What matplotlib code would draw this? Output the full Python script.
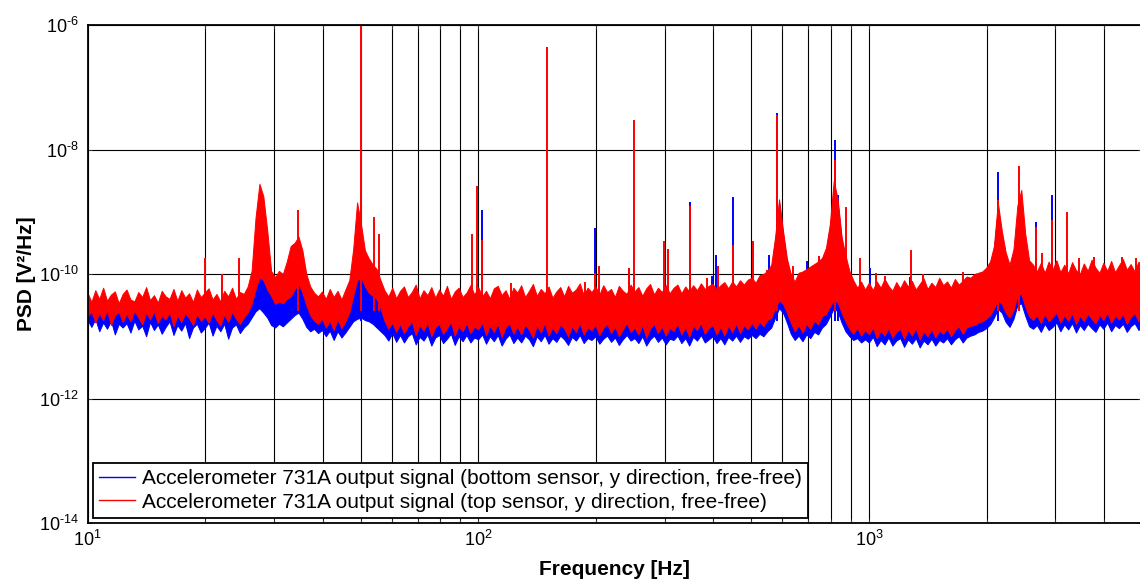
import numpy as np
import matplotlib
matplotlib.use("Agg")
import matplotlib.pyplot as plt
from matplotlib.lines import Line2D
from matplotlib.ticker import FixedLocator, FuncFormatter, NullFormatter

# -------------------------
# DATA (log10 of PSD in V^2/Hz)
# bins are spaced 0.01 decade apart starting at 10 Hz;
# each bin holds the min / max of the trace inside it
# -------------------------
top_hi_log = [
    -10.30, -10.45, -10.26, -10.40, -10.22, -10.43, -10.33, -10.28, -10.47, -10.32,
    -10.25, -10.41, -10.44, -10.29, -10.37, -10.21, -10.42, -10.34, -10.46, -10.27,
    -10.36, -10.40, -10.24, -10.43, -10.26, -10.38, -10.31, -10.45, -10.25, -10.37,
    -10.30, -10.23, -10.41, -10.32, -10.44, -10.27, -10.36, -10.22, -10.40, -10.29,
    -10.32, -10.20, -9.95, -9.10, -8.55, -8.75, -9.30, -9.95, -10.05, -9.95,
    -10.00, -9.80, -9.55, -9.50, -9.40, -9.62, -10.00, -10.20, -10.30, -10.36,
    -10.28, -10.40, -10.24, -10.37, -10.27, -10.41, -10.25, -10.10, -9.60, -8.85,
    -9.20, -9.62, -9.75, -9.85, -9.92, -10.10, -10.26, -10.36, -10.22, -10.39,
    -10.27, -10.20, -10.37, -10.29, -10.17, -10.39, -10.26, -10.34, -10.21, -10.38,
    -10.25, -10.35, -10.19, -10.40, -10.28, -10.22, -10.37, -10.30, -10.18, -10.33,
    -10.21, -10.36, -10.27, -10.39, -10.23, -10.19, -10.34, -10.26, -10.40, -10.22,
    -10.30, -10.18, -10.37, -10.27, -10.16, -10.35, -10.24, -10.31, -10.20, -10.38,
    -10.28, -10.21, -10.36, -10.19, -10.30, -10.25, -10.15, -10.34, -10.22, -10.29,
    -10.20, -10.33, -10.18, -10.29, -10.24, -10.37, -10.19, -10.27, -10.32, -10.17,
    -10.28, -10.21, -10.35, -10.23, -10.16, -10.33, -10.22, -10.29, -10.18, -10.31,
    -10.22, -10.17, -10.31, -10.20, -10.28, -10.18, -10.26, -10.15, -10.24, -10.19,
    -10.16, -10.25, -10.18, -10.13, -10.23, -10.12, -10.20, -10.10, -10.17, -10.09,
    -10.06, -10.14, -10.02, -10.00, -9.95, -9.85, -9.40, -8.80, -9.30, -9.75,
    -10.00, -10.12, -9.98, -9.96, -9.92, -9.88, -9.84, -9.80, -9.74, -9.58,
    -9.20, -8.50, -8.80, -9.40, -9.70, -9.95, -10.10, -10.22, -10.12, -10.25,
    -10.14, -10.26, -10.12, -10.22, -10.08, -10.19, -10.27, -10.13, -10.23, -10.10,
    -10.20, -10.11, -10.25, -10.16, -10.07, -10.24, -10.14, -10.21, -10.06, -10.18,
    -10.12, -10.22, -10.08, -10.17, -10.11, -10.04, -10.06, -10.00, -9.98, -9.96,
    -9.90, -9.80, -9.55, -8.85, -9.30, -9.65, -9.85, -9.60, -8.90, -8.65,
    -9.35, -9.78, -9.85, -9.96, -9.82, -9.98, -9.80, -9.93, -9.78, -9.97,
    -9.85, -9.99, -9.81, -9.94, -10.00, -9.83, -9.95, -9.77, -9.90, -9.98,
    -9.82, -9.95, -9.79, -9.97, -9.86, -9.76, -9.93, -9.84, -9.96, -9.80,
    -9.90,
]
top_lo_log = [
    -10.68, -10.60, -10.78, -10.63, -10.74, -10.58, -10.82, -10.66, -10.61, -10.77,
    -10.64, -10.76, -10.59, -10.70, -10.81, -10.62, -10.73, -10.60, -10.79, -10.67,
    -10.73, -10.61, -10.84, -10.66, -10.77, -10.63, -10.71, -10.82, -10.64, -10.75,
    -10.68, -10.78, -10.62, -10.74, -10.83, -10.65, -10.77, -10.61, -10.72, -10.80,
    -10.70, -10.62, -10.48, -10.25, -10.05, -10.10, -10.25, -10.35, -10.48, -10.44,
    -10.47, -10.40, -10.36, -10.25, -10.15, -10.30, -10.50, -10.66, -10.75, -10.80,
    -10.72, -10.86, -10.75, -10.90, -10.73, -10.87, -10.76, -10.62, -10.35, -10.10,
    -10.05, -10.20, -10.30, -10.35, -10.40, -10.55, -10.75, -10.88, -10.78, -10.93,
    -10.80, -10.95, -10.84, -10.76, -10.98, -10.82, -10.91, -10.78, -11.00, -10.85,
    -10.80, -10.96, -10.87, -10.77, -10.99, -10.83, -10.92, -10.79, -10.95, -10.84,
    -10.89, -10.78, -10.98, -10.83, -10.93, -10.80, -11.01, -10.86, -10.79, -10.96,
    -10.84, -10.97, -10.81, -10.90, -11.02, -10.82, -10.94, -10.79, -10.99, -10.86,
    -10.95, -10.81, -10.88, -11.00, -10.84, -10.93, -10.79, -10.97, -10.86, -10.90,
    -10.82, -10.98, -10.87, -10.80, -10.95, -10.84, -11.00, -10.89, -10.79, -10.93,
    -10.86, -10.97, -10.82, -11.02, -10.88, -10.80, -10.95, -10.84, -10.99, -10.87,
    -10.91, -10.80, -10.97, -10.85, -11.01, -10.83, -10.90, -10.79, -10.96, -10.87,
    -10.82, -10.97, -10.85, -10.99, -10.83, -10.93, -10.80, -10.95, -10.82, -10.89,
    -10.78, -10.88, -10.77, -10.84, -10.74, -10.70, -10.55, -10.42, -10.48, -10.62,
    -10.78, -10.92, -10.82, -10.94, -10.80, -10.88, -10.75, -10.81, -10.68, -10.64,
    -10.52, -10.42, -10.45, -10.62, -10.76, -10.88, -10.96, -10.86, -10.99, -10.90,
    -10.97, -10.86, -11.03, -10.91, -10.99, -10.87, -11.02, -10.93, -10.88, -11.04,
    -10.90, -10.99, -10.87, -11.05, -10.92, -11.00, -10.88, -11.02, -10.91, -10.96,
    -10.87, -11.00, -10.90, -10.84, -10.96, -10.86, -10.83, -10.82, -10.78, -10.76,
    -10.72, -10.66, -10.55, -10.42, -10.48, -10.62, -10.70, -10.58, -10.35, -10.32,
    -10.52, -10.68, -10.74, -10.66, -10.79, -10.64, -10.76, -10.69, -10.62, -10.78,
    -10.66, -10.75, -10.63, -10.80, -10.67, -10.76, -10.64, -10.72, -10.79, -10.65,
    -10.74, -10.62, -10.78, -10.67, -10.73, -10.64, -10.80, -10.69, -10.63, -10.76,
    -10.68,
]
bottom_hi_log = [
    -10.42, -10.50, -10.40, -10.47, -10.38, -10.49, -10.44, -10.41, -10.52, -10.43,
    -10.40, -10.46, -10.50, -10.42, -10.45, -10.37, -10.48, -10.44, -10.51, -10.40,
    -10.43, -10.47, -10.41, -10.49, -10.39, -10.45, -10.42, -10.50, -10.40, -10.44,
    -10.42, -10.39, -10.46, -10.43, -10.49, -10.41, -10.44, -10.38, -10.47, -10.40,
    -10.42, -10.35, -10.28, -10.20, -10.05, -10.10, -10.20, -10.35, -10.40, -10.38,
    -10.40, -10.35, -10.28, -10.20, -10.10, -10.25, -10.38, -10.42, -10.44, -10.46,
    -10.43, -10.47, -10.40, -10.45, -10.42, -10.46, -10.40, -10.35, -10.30, -10.05,
    -10.00, -10.15, -10.25, -10.30, -10.35, -10.40, -10.42, -10.44, -10.41, -10.46,
    -10.40, -10.37, -10.44, -10.41, -10.36, -10.45, -10.39, -10.42, -10.38, -10.44,
    -10.39, -10.42, -10.37, -10.45, -10.40, -10.38, -10.43, -10.41, -10.37, -10.40,
    -10.37, -10.43, -10.39, -10.44, -10.40, -10.37, -10.42, -10.39, -10.45, -10.38,
    -10.41, -10.37, -10.43, -10.40, -10.36, -10.42, -10.39, -10.41, -10.37, -10.44,
    -10.40, -10.38, -10.42, -10.37, -10.41, -10.39, -10.35, -10.42, -10.38, -10.40,
    -10.37, -10.41, -10.36, -10.40, -10.38, -10.42, -10.36, -10.39, -10.41, -10.36,
    -10.40, -10.37, -10.41, -10.38, -10.35, -10.41, -10.37, -10.39, -10.36, -10.40,
    -10.37, -10.35, -10.40, -10.36, -10.39, -10.35, -10.38, -10.34, -10.37, -10.35,
    -10.33, -10.37, -10.34, -10.32, -10.36, -10.31, -10.33, -10.29, -10.32, -10.28,
    -10.26, -10.29, -10.22, -10.18, -10.14, -10.05, -9.50, -8.85, -9.35, -9.80,
    -10.15, -10.20, -10.15, -10.12, -10.10, -10.06, -10.02, -9.98, -9.92, -9.70,
    -9.30, -8.60, -8.85, -9.45, -9.78, -10.05, -10.25, -10.30, -10.27, -10.32,
    -10.29, -10.33, -10.28, -10.31, -10.26, -10.30, -10.34, -10.29, -10.32, -10.27,
    -10.31, -10.28, -10.33, -10.29, -10.26, -10.32, -10.29, -10.30, -10.25, -10.29,
    -10.27, -10.30, -10.24, -10.28, -10.25, -10.22, -10.18, -10.14, -10.12, -10.10,
    -10.00, -9.90, -9.60, -8.95, -9.40, -9.75, -9.95, -9.75, -9.30, -9.10,
    -9.60, -9.90, -9.97, -10.03, -9.99, -10.05, -9.97, -10.01, -9.96, -10.04,
    -10.00, -10.05, -9.98, -10.02, -10.06, -9.99, -10.03, -9.97, -10.01, -10.05,
    -9.98, -10.02, -9.97, -10.04, -10.00, -9.96, -10.01, -9.99, -10.03, -9.97,
    -10.01,
]
bottom_lo_log = [
    -10.74, -10.85, -10.72, -10.92, -10.78, -10.88, -10.75, -10.97, -10.80, -10.86,
    -10.79, -10.94, -10.75, -10.89, -10.83, -11.00, -10.77, -10.90, -10.81, -10.96,
    -10.85, -10.76, -10.98, -10.82, -10.91, -10.79, -11.03, -10.86, -10.80, -10.94,
    -10.87, -10.78, -10.99, -10.83, -10.92, -10.80, -11.04, -10.86, -10.81, -10.95,
    -10.86, -10.80, -10.70, -10.60, -10.55, -10.62, -10.70, -10.82, -10.86, -10.80,
    -10.84, -10.78, -10.72, -10.66, -10.62, -10.72, -10.85, -10.92, -10.88, -10.95,
    -10.90, -11.00, -10.91, -11.06, -10.92, -11.02, -10.94, -10.85, -10.76, -10.72,
    -10.70, -10.74, -10.76, -10.80, -10.86, -10.92, -10.98, -11.07, -10.95, -11.09,
    -10.98, -11.10, -11.00, -10.95, -11.13, -11.01, -11.07, -10.97, -11.15, -11.02,
    -10.98, -11.11, -11.04, -10.96, -11.14, -11.00, -11.08, -10.98, -11.10, -11.02,
    -11.05, -10.97, -11.12, -11.00, -11.08, -10.98, -11.15, -11.04, -10.97, -11.11,
    -11.02, -11.10, -10.99, -11.05, -11.16, -11.00, -11.08, -10.98, -11.12, -11.03,
    -11.09, -10.99, -11.05, -11.14, -11.01, -11.07, -10.98, -11.11, -11.03, -11.06,
    -11.00, -11.12, -11.04, -10.99, -11.09, -11.02, -11.14, -11.05, -10.98, -11.07,
    -11.03, -11.11, -11.00, -11.15, -11.05, -10.99, -11.09, -11.02, -11.13, -11.04,
    -11.06, -10.99, -11.11, -11.03, -11.15, -11.01, -11.07, -10.98, -11.10, -11.05,
    -11.00, -11.11, -11.03, -11.13, -11.01, -11.07, -10.99, -11.09, -11.00, -11.04,
    -10.98, -11.03, -10.96, -11.00, -10.92, -10.86, -10.70, -10.55, -10.62, -10.78,
    -10.96, -11.06, -10.99, -11.08, -10.97, -11.03, -10.93, -10.97, -10.86, -10.80,
    -10.68, -10.55, -10.60, -10.78, -10.92, -11.00, -11.06, -11.03, -11.10, -11.05,
    -11.10, -11.01, -11.16, -11.06, -11.13, -11.02, -11.15, -11.07, -11.03, -11.17,
    -11.05, -11.12, -11.03, -11.18, -11.07, -11.13, -11.04, -11.15, -11.06, -11.10,
    -11.03, -11.13, -11.05, -11.00, -11.10, -11.02, -10.99, -10.97, -10.93, -10.91,
    -10.87, -10.81, -10.70, -10.56, -10.62, -10.77, -10.85, -10.72, -10.50, -10.47,
    -10.67, -10.84, -10.88, -10.82, -10.93, -10.80, -10.90, -10.85, -10.78, -10.92,
    -10.81, -10.89, -10.79, -10.94, -10.82, -10.90, -10.80, -10.87, -10.93, -10.81,
    -10.88, -10.78, -10.92, -10.82, -10.87, -10.80, -10.93, -10.84, -10.79, -10.90,
    -10.83,
]

# narrow lines (harmonics, resonance tips): frequency [Hz], log10 peak
top_spike_hz = [20.0, 22.1, 24.4, 34.5, 50.0, 54.1, 55.7, 96.6, 99.5, 102.0,
                121.0, 150.0, 187.5, 199.0, 204.0, 243.0, 250.0, 299.0, 306.0, 348.0,
                386.0, 411.0, 449.0, 506.0, 548.0, 583.0, 638.0, 745.0, 818.0, 875.0,
                950.0, 1045.0, 1097.0, 1285.0, 1377.0, 1745.0, 2142.0, 2428.0, 2673.0, 2769.0,
                2936.0, 3206.0, 3455.0, 3763.0, 4435.0, 4830.0]
top_spike_log = [-9.74, -10.00, -9.74, -8.97, -5.90, -9.09, -9.35, -9.36, -8.59, -9.46,
                 -10.15, -6.35, -10.13, -9.99, -9.87, -9.91, -7.53, -9.47, -9.60, -8.90,
                 -10.07, -9.87, -9.54, -9.47, -9.94, -7.45, -9.87, -9.71, -8.17, -8.93,
                 -9.75, -9.99, -10.03, -9.62, -10.00, -9.96, -8.81, -8.27, -9.24, -9.67,
                 -9.14, -9.00, -9.75, -9.72, -9.72, -9.75]
bottom_spike_hz = [50.0, 102.0, 199.0, 243.0, 348.0, 396.0, 406.0, 449.0, 556.0, 583.0,
                   693.0, 745.0, 818.0, 832.0, 1009.0, 1271.0, 2142.0, 2673.0, 2936.0, 3010.0]
bottom_spike_log = [-8.70, -8.97, -9.26, -9.90, -8.85, -10.03, -9.70, -8.77, -9.70, -7.41,
                    -9.79, -9.71, -7.85, -8.73, -9.91, -10.05, -8.36, -9.17, -8.73, -9.79]
top_spike_base_log = -10.6
bottom_spike_base_log = -10.75

y_tick_exp = [-14, -12, -10, -8, -6]
x_tick_exp = [1, 2, 3]

label_bottom = "Accelerometer 731A output signal (bottom sensor, y direction, free-free)"
label_top = "Accelerometer 731A output signal (top sensor, y direction, free-free)"

# -------------------------
plt.rcParams['font.family'] = ['Liberation Sans', 'DejaVu Sans']
plt.rcParams['mathtext.fontset'] = 'custom'
plt.rcParams['mathtext.rm'] = 'Liberation Sans'
plt.rcParams['mathtext.it'] = 'Liberation Sans:italic'
plt.rcParams['mathtext.bf'] = 'Liberation Sans:bold'

freq_hz = 10 ** (1 + 0.01 * np.arange(len(top_hi_log)))

fig = plt.figure(figsize=(11.4, 5.86), dpi=100)
ax = fig.add_axes([87.5 / 1140, 63.0 / 586, 1054.5 / 1140, 498.0 / 586])
ax.set_xscale('log')
ax.set_yscale('log')

ax.fill_between(freq_hz, 10 ** np.array(bottom_lo_log), 10 ** np.array(bottom_hi_log),
                facecolor='#0000ff', edgecolor='#0000ff', lw=0.7, zorder=2)
ax.vlines(bottom_spike_hz, 10 ** bottom_spike_base_log, 10 ** np.array(bottom_spike_log),
          colors='#0000ff', lw=1.4, zorder=2)
ax.fill_between(freq_hz, 10 ** np.array(top_lo_log), 10 ** np.array(top_hi_log),
                facecolor='#ff0000', edgecolor='#ff0000', lw=0.7, zorder=3)
ax.vlines(top_spike_hz, 10 ** top_spike_base_log, 10 ** np.array(top_spike_log),
          colors='#ff0000', lw=1.4, zorder=3)

ax.set_xlim(10, 5000)
ax.set_ylim(1e-14, 1e-6)


def pow10_label(v, pos):
    e = int(round(np.log10(v)))
    if e < 0:
        return r"$10^{\text{-}%d}$" % (-e)
    return r"$10^{%d}$" % e


ax.xaxis.set_major_locator(FixedLocator([10.0 ** e for e in x_tick_exp]))
ax.xaxis.set_minor_locator(FixedLocator([m * 10.0 ** e for e in [1, 2, 3] for m in range(2, 10)]))
ax.yaxis.set_major_locator(FixedLocator([10.0 ** e for e in y_tick_exp]))
ax.yaxis.set_minor_locator(FixedLocator([]))
ax.xaxis.set_major_formatter(FuncFormatter(pow10_label))
ax.yaxis.set_major_formatter(FuncFormatter(pow10_label))
ax.xaxis.set_minor_formatter(NullFormatter())

ax.tick_params(which='both', direction='in', top=True, right=True, labelsize=13,
               length=3, width=0.6, color='#444444')
ax.tick_params(axis='x', pad=5)
ax.tick_params(axis='y', pad=6)

ax.grid(True, which='major', color='black', lw=0.8, ls='-', zorder=0)
ax.xaxis.grid(True, which='minor', color='black', lw=0.8, ls='-', zorder=0)
ax.set_axisbelow(True)
for s in ax.spines.values():
    s.set_linewidth(1.3)
    s.set_zorder(5)

ax.set_xlabel("Frequency [Hz]", fontsize=15, fontweight='bold', labelpad=7)
ax.set_ylabel("PSD [V²/Hz]", fontsize=15, fontweight='bold', labelpad=2)

handles = [Line2D([], [], color='#0000ff', lw=1.0), Line2D([], [], color='#ff0000', lw=1.0)]
leg = ax.legend(handles, [label_bottom, label_top], loc='lower left', fontsize=15,
                frameon=True, fancybox=False, framealpha=1, edgecolor='black',
                borderaxespad=0.25, handlelength=1.75, handletextpad=0.3,
                labelspacing=0.2, borderpad=0.3)
leg.get_frame().set_linewidth(1.3)
leg.set_zorder(6)

fig.savefig("out.png", dpi=100)
